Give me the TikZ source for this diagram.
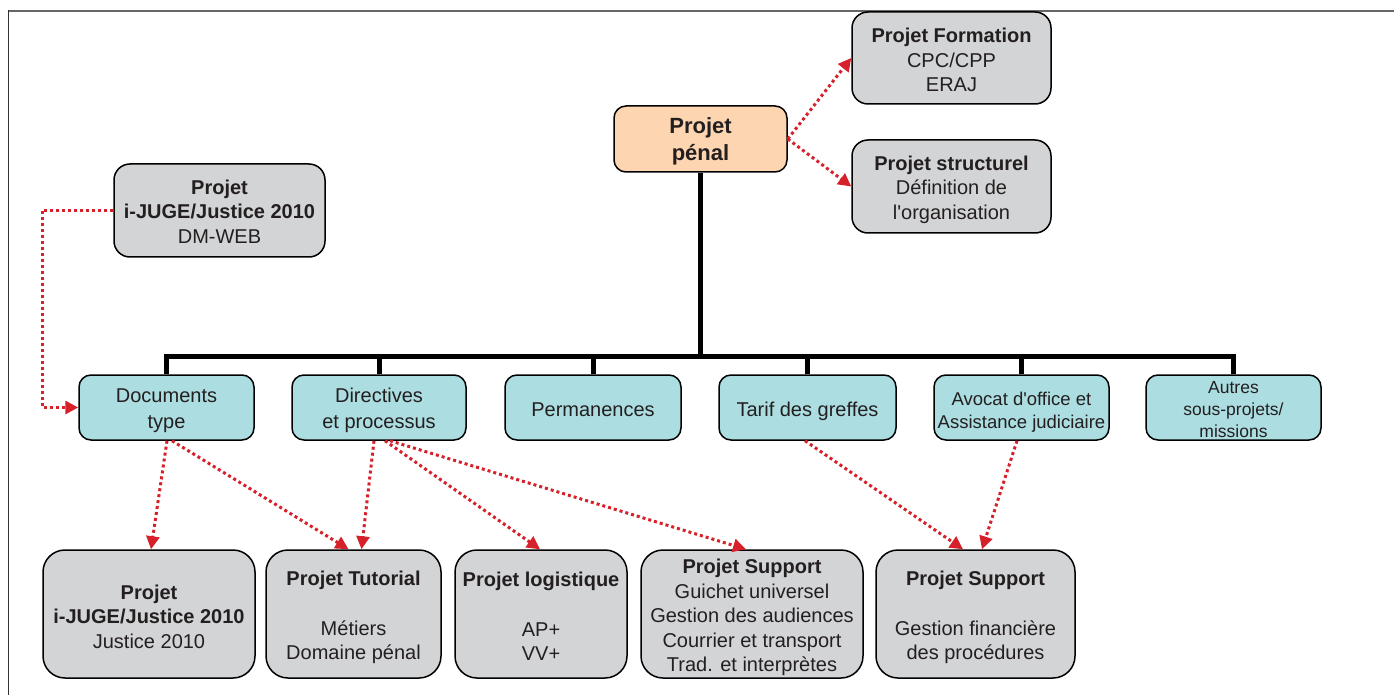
\documentclass[tikz,border=0pt]{standalone}
\usepackage{fontspec}
\defaultfontfeatures[\rmfamily]{}
\setmainfont{Liberation Sans}
\usetikzlibrary{arrows.meta,calc}
\definecolor{cyanf}{HTML}{ACDDE1}
\definecolor{grayf}{HTML}{D3D4D6}
\definecolor{peachf}{HTML}{FDD5B0}
\definecolor{redl}{HTML}{D6202A}
\definecolor{txt}{HTML}{231F20}
\definecolor{frametop}{HTML}{666666}
\definecolor{frameleft}{HTML}{333333}
\newcommand\ts[1]{\rule{0pt}{#1pt}}
\begin{document}
\begin{tikzpicture}[x=1pt,y=-1pt,
 box/.style={draw=black, line width=1.5pt, inner sep=0pt, align=center, text=txt, font=\fontsize{20}{24.5}\selectfont},
 cbox/.style={box, fill=cyanf, rounded corners=12pt, minimum height=65pt},
 gbox/.style={box, fill=grayf, rounded corners=16pt},
 bbox/.style={box, fill=grayf, rounded corners=22pt, minimum height=128pt},
 bus/.style={line width=5pt, draw=black, line join=miter},
 rarr/.style={draw=redl, line width=3pt, dash pattern=on 3pt off 3pt, -{Triangle[length=13pt,width=13pt,fill=redl]}}
]
\useasboundingbox (0,0) rectangle (1395,695);
% frame
\draw[frametop, line width=2pt] (8,11) -- (1394,11);
\draw[frameleft, line width=1.5pt] (8.5,10) -- (8.5,695);

% top nodes
\node[box, fill=peachf, rounded corners=12pt, minimum width=173pt, minimum height=66pt,
      font=\bfseries\fontsize{22}{27}\selectfont] (penal) at (700.5,139) {\ts{20}Projet\\pénal};
\node[gbox, minimum width=199pt, minimum height=92pt] (form) at (951.5,58)
  {\ts{19}\textbf{Projet Formation}\\CPC/CPP\\ERAJ};
\node[gbox, minimum width=199pt, minimum height=93pt] (struct) at (951.5,186.5)
  {\ts{20.5}\textbf{Projet structurel}\\Définition de\\l'organisation};
\node[gbox, minimum width=211pt, minimum height=93pt] (ij) at (219.5,210.5)
  {\ts{17}\textbf{Projet}\\\textbf{i-JUGE/Justice 2010}\\DM-WEB};

% middle row
\node[cbox, minimum width=175pt, font=\fontsize{20}{26}\selectfont] (docs) at (166.5,407.5) {\ts{21}Documents\\type};
\node[cbox, minimum width=174pt, font=\fontsize{20}{26}\selectfont] (dir) at (379,407.5) {\ts{21}Directives\\et processus};
\node[cbox, minimum width=176pt] (perm) at (593,407.5) {\ts{19}Permanences};
\node[cbox, minimum width=177pt] (tarif) at (807.5,407.5) {\ts{22}Tarif des greffes};
\node[cbox, minimum width=175pt, font=\fontsize{18.5}{23}\selectfont] (avocat) at (1021.5,407.5) {\ts{22.5}Avocat d'office et\\Assistance judiciaire};
\node[cbox, minimum width=175pt, font=\fontsize{17.5}{22}\selectfont] (autres) at (1233.5,407.5) {\ts{17}Autres\\sous-projets/\\missions};

% bottom row
\node[bbox, minimum width=212pt] (ij2) at (149,614)
  {\ts{19.5}\textbf{Projet}\\\textbf{i-JUGE/Justice 2010}\\Justice 2010};
\node[bbox, minimum width=175pt] (tut) at (353.5,614)
  {\ts{21}\textbf{Projet Tutorial}\\[25.5pt]Métiers\\Domaine pénal};
\node[bbox, minimum width=172pt] (logi) at (541,614)
  {\ts{19}\textbf{Projet logistique}\\[25.5pt]AP+\\VV+};
\node[bbox, minimum width=222pt] (sup1) at (752,614)
  {\ts{21.5}\textbf{Projet Support}\\Guichet universel\\Gestion des audiences\\Courrier et transport\\Trad. et interprètes};
\node[bbox, minimum width=199pt] (sup2) at (975.5,614)
  {\ts{21.5}\textbf{Projet Support}\\[25.5pt]Gestion financière\\des procédures};

% bus
\coordinate (busy) at (700,356);
\draw[bus] (penal.south) -- (penal.south |- busy);
\draw[bus] (docs.north) -- (docs.north |- busy) -- (autres.north |- busy) -- (autres.north);
\foreach \n in {dir,perm,tarif,avocat}
  \draw[bus] (\n.north |- busy) -- (\n.north);

% red dotted arrows
\draw[rarr] (penal.east) -- (form.west);
\draw[rarr] (penal.east) -- (struct.west);
\coordinate (lc) at (42,0);
\draw[rarr] (ij.west) -- (ij.west -| lc) |- (docs.west);
\draw[rarr] ($(docs.south)+(0.5,0)$) -- ($(ij2.north)+(2,0)$);
\draw[rarr] ($(docs.south)+(5.5,0)$) -- ($(tut.north)+(-5,0)$);
\draw[rarr] ($(dir.south)+(-5,0)$) -- ($(tut.north)+(8,0)$);
\draw[rarr] ($(dir.south)+(6,0)$) -- ($(logi.north)+(-1,0)$);
\draw[rarr] ($(dir.south)+(11,0)$) -- ($(sup1.north)+(-6,0)$);
\draw[rarr] ($(tarif.south)+(-2.5,0)$) -- ($(sup2.north)+(-12.5,0)$);
\draw[rarr] ($(avocat.south)+(-4.5,0)$) -- ($(sup2.north)+(6.5,0)$);
\end{tikzpicture}
\end{document}
